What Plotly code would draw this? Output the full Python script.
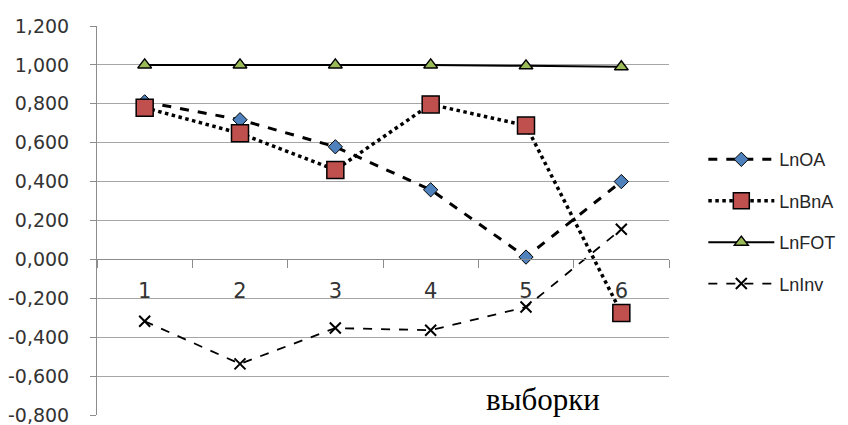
import plotly.graph_objects as go

categories = ["1", "2", "3", "4", "5", "6"]
ln_oa = [0.81, 0.718, 0.579, 0.358, 0.012, 0.400]
ln_bna = [0.780, 0.648, 0.460, 0.797, 0.688, -0.275]
ln_fot = [1.000, 1.000, 1.000, 1.000, 0.995, 0.990]
ln_inv = [-0.318, -0.537, -0.353, -0.364, -0.245, 0.155]

y_tick_vals = [-0.8, -0.6, -0.4, -0.2, 0.0, 0.2, 0.4, 0.6, 0.8, 1.0, 1.2]
y_tick_labels = ["-0,800", "-0,600", "-0,400", "-0,200", "0,000", "0,200",
                 "0,400", "0,600", "0,800", "1,000", "1,200"]
x_title = "выборки"

fig = go.Figure()
fig.add_trace(go.Scatter(
    x=categories, y=ln_oa, name="LnOA", mode="lines+markers", legendgroup="a",
    line=dict(color="black", width=3, dash="dash"),
    marker=dict(symbol="diamond", size=11, color="#4f81bd", line=dict(color="black", width=1)),
))
fig.add_trace(go.Scatter(
    x=categories, y=ln_bna, name="LnBnA", mode="lines+markers", legendgroup="b",
    line=dict(color="black", width=3.5, dash="dot"),
    marker=dict(symbol="square", size=17, color="#c0504d", line=dict(color="black", width=1.5)),
))
fig.add_trace(go.Scatter(
    x=categories, y=ln_fot, name="LnFOT", mode="lines+markers", legendgroup="c",
    line=dict(color="black", width=2),
    marker=dict(symbol="triangle-up", size=12, color="#9bbb59", line=dict(color="black", width=1.5)),
))
fig.add_trace(go.Scatter(
    x=categories, y=ln_inv, name="LnInv", mode="lines+markers", legendgroup="d",
    line=dict(color="black", width=1.8, dash="dash"),
    marker=dict(symbol="x-thin", size=11, color="black", line=dict(color="black", width=2)),
))

fig.add_annotation(text=x_title, xref="paper", yref="paper", x=0.78, y=0.04,
                   showarrow=False, xanchor="center", yanchor="middle",
                   font=dict(family="Liberation Serif", size=31, color="black"))

# page body has an 8px margin, so the figure is offset by 8px; margins compensate
fig.update_layout(
    width=848, height=417,
    margin=dict(l=89, r=187, t=18, b=10, autoexpand=False),
    paper_bgcolor="white", plot_bgcolor="white",
    font=dict(family="DejaVu Sans", color="#333333"),
    legend=dict(x=1.06, y=0.704, xanchor="left", yanchor="top",
                font=dict(family="Liberation Sans", size=18, color="#262626"),
                itemwidth=66, tracegroupgap=15, bgcolor="rgba(0,0,0,0)"),
    xaxis=dict(type="category", range=[-0.5, 5.5], anchor="free", position=0.4,
               automargin=False,
               showline=True, linecolor="#8c8c8c", linewidth=1,
               ticks="outside", tickson="boundaries", ticklen=8, tickcolor="#8c8c8c",
               showgrid=False, tickfont=dict(size=21, color="#333333"),
               ticklabelstandoff=12),
    yaxis=dict(range=[-0.8, 1.2], tickvals=y_tick_vals, ticktext=y_tick_labels,
               automargin=False, ticklabeloverflow="allow",
               showline=True, linecolor="#8c8c8c", linewidth=1,
               ticks="outside", ticklen=6, tickcolor="#8c8c8c",
               showgrid=True, gridcolor="#a6a6a6", gridwidth=1, zeroline=False,
               tickfont=dict(size=19, color="#333333"), ticklabelstandoff=17),
)

fig.write_html("out.html")
